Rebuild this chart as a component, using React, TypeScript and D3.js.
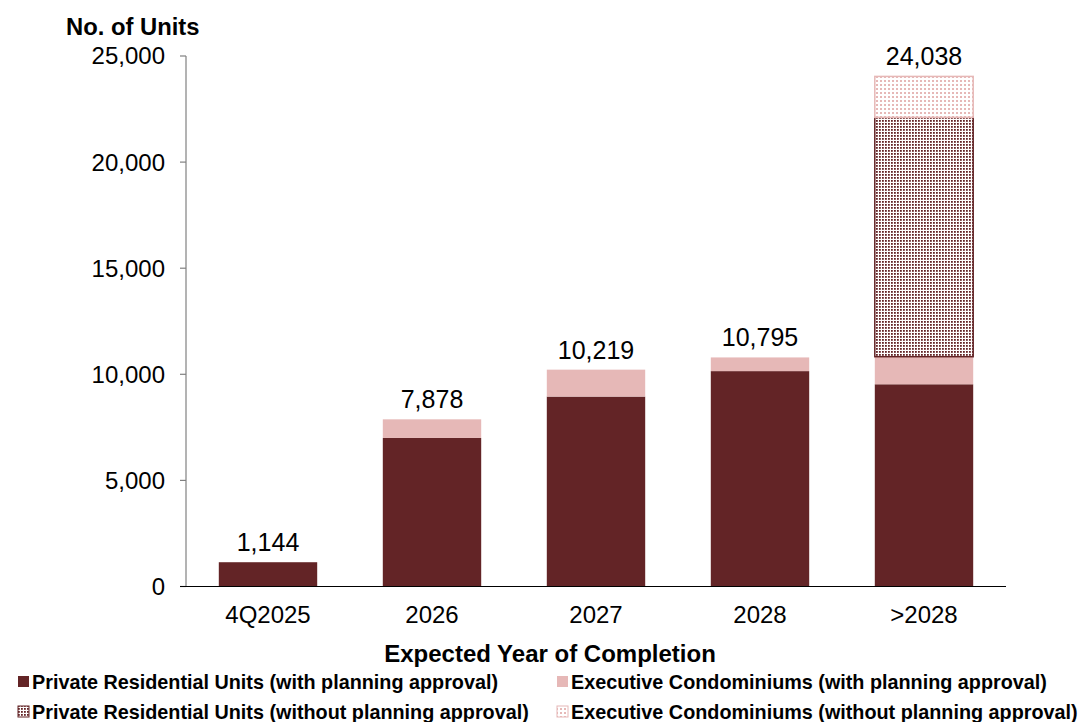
import React from "react";
import * as d3 from "d3";

const categories = ["4Q2025", "2026", "2027", "2028", ">2028"];
const privateWith = [1144, 7000, 8950, 10150, 9530];
const ecWith = [0, 878, 1269, 645, 1300];
const privateWithout = [0, 0, 0, 0, 11280];
const ecWithout = [0, 0, 0, 0, 1928];
const totals = [1144, 7878, 10219, 10795, 24038];
const yTicks = [0, 5000, 10000, 15000, 20000, 25000];

const seriesKeys = ["privateWith", "ecWith", "privateWithout", "ecWithout"];
const seriesLabels = [
  "Private Residential Units (with planning approval)",
  "Executive Condominiums (with planning approval)",
  "Private Residential Units (without planning approval)",
  "Executive Condominiums (without planning approval)",
];

const DARK = "#632426";
const PINK = "#E6B8B7";
const FONT = "'Liberation Sans', Arial, Helvetica, sans-serif";

const fills = [DARK, PINK, "url(#patDark)", "url(#patPink)"];
const strokes = ["none", "none", DARK, PINK];

export default function App() {
  const W = 1083, H = 722;
  const left = 186, right = 1006, top = 56, bottom = 586.5;

  const x = d3.scaleBand<string>().domain(categories).range([left, right]).paddingInner(0.4).paddingOuter(0.2);
  const y = d3.scaleLinear().domain([0, 25000]).range([bottom, top]);

  const rows = categories.map((c, i) => ({
    cat: c,
    privateWith: privateWith[i],
    ecWith: ecWith[i],
    privateWithout: privateWithout[i],
    ecWithout: ecWithout[i],
  }));
  const stacked = d3.stack<any>().keys(seriesKeys)(rows);
  const fmt = d3.format(",");

  return (
    <svg width={W} height={H} style={{ position: "absolute", left: 0, top: 0, background: "#fff" }} fontFamily={FONT}>
      <defs>
        <pattern id="patDark" width={3} height={3} patternUnits="userSpaceOnUse">
          <rect width={3} height={3} fill="#fff" />
          <rect width={1.8} height={1.8} fill={DARK} />
        </pattern>
        <pattern id="patPink" width={4} height={4} patternUnits="userSpaceOnUse">
          <rect width={4} height={4} fill="#fff" />
          <rect width={2} height={2} fill={PINK} />
        </pattern>
      </defs>

      {stacked.map((s, si) =>
        s.map((d, i) => {
          const h = y(d[0]) - y(d[1]);
          if (h <= 0) return null;
          return (
            <rect
              key={si + "-" + i}
              x={x(categories[i])!}
              y={y(d[1])}
              width={x.bandwidth()}
              height={h}
              fill={fills[si]}
              stroke={strokes[si]}
              strokeWidth={strokes[si] === "none" ? 0 : 1.5}
            />
          );
        })
      )}

      {/* Y axis */}
      <line x1={left} x2={left} y1={top} y2={bottom} stroke="#808080" strokeWidth={1.2} />
      {yTicks.map((t) => (
        <g key={t}>
          <line x1={left - 6} x2={left} y1={y(t)} y2={y(t)} stroke="#808080" strokeWidth={1.2} />
          <text x={left - 21} y={y(t)} dy="0.35em" textAnchor="end" fontSize={24} fill="#000">
            {fmt(t)}
          </text>
        </g>
      ))}
      {/* X axis */}
      <line x1={left - 6} x2={right} y1={bottom} y2={bottom} stroke="#000" strokeWidth={1.2} />
      {categories.map((c) => (
        <text key={c} x={x(c)! + x.bandwidth() / 2} y={615} dy="0.35em" textAnchor="middle" fontSize={24} fill="#000">
          {c}
        </text>
      ))}

      {/* totals */}
      {categories.map((c, i) => (
        <text key={c} x={x(c)! + x.bandwidth() / 2} y={y(totals[i]) - 11} textAnchor="middle" fontSize={25} fill="#000">
          {fmt(totals[i])}
        </text>
      ))}

      <text x={66} y={35} fontSize={23.8} fontWeight="bold" fill="#000">No. of Units</text>
      <text x={550} y={662} textAnchor="middle" fontSize={24} fontWeight="bold" fill="#000">Expected Year of Completion</text>

      {/* legend */}
      {seriesLabels.map((lab, i) => {
        const col = i % 2;
        const row = Math.floor(i / 2);
        const lx = col === 0 ? 18 : 557;
        const ly = row === 0 ? 682 : 712;
        return (
          <g key={lab}>
            <rect x={lx} y={ly - 6} width={11} height={11} fill={fills[i]} stroke={strokes[i]} strokeWidth={strokes[i] === "none" ? 0 : 1} />
            <text x={lx + 14} y={ly} dy="0.35em" fontSize={19.8} fontWeight="bold" fill="#000">
              {lab}
            </text>
          </g>
        );
      })}
    </svg>
  );
}
